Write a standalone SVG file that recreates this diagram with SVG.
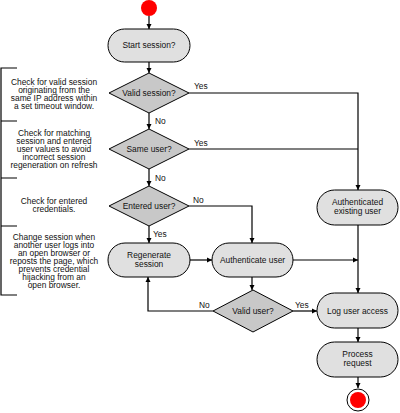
<svg xmlns="http://www.w3.org/2000/svg" width="400" height="413" viewBox="0 0 400 413">
<defs>
<marker id="ah" markerWidth="6" markerHeight="6" refX="5" refY="3" orient="auto" markerUnits="userSpaceOnUse">
<path d="M0,0.5 L5,3 L0,5.5 Z" fill="#000"/>
</marker>
<style>
text{font-family:"Liberation Sans",Arial,sans-serif;font-size:8.4px;fill:#111;}
.n{fill:#e0e0e0;stroke:#000;stroke-width:1;}
.d{fill:#c8c8c8;stroke:#000;stroke-width:1;}
.c{fill:none;stroke:#000;stroke-width:1.2;}
.m{text-anchor:middle;}
.a{marker-end:url(#ah);}
</style>
</defs>
<rect width="400" height="413" fill="#fff"/>
<g id="notes">
<path class="c" d="M17,68 H1 V295 H17 M1,121 H17 M1,178 H17 M1,226 H17" stroke-width="1"/>
<text class="m" x="54"><tspan x="54" y="85">Check for valid session</tspan><tspan x="54" y="93">originating from the</tspan><tspan x="54" y="101">same IP address within</tspan><tspan x="54" y="109">a set timeout window.</tspan></text>
<text class="m" x="54"><tspan x="54" y="136">Check for matching</tspan><tspan x="54" y="144">session and entered</tspan><tspan x="54" y="152">user values to avoid</tspan><tspan x="54" y="160">incorrect session</tspan><tspan x="54" y="168">regeneration on refresh</tspan></text>
<text class="m" x="54"><tspan x="54" y="204">Check for entered</tspan><tspan x="54" y="212">credentials.</tspan></text>
<text class="m" x="54"><tspan x="54" y="240">Change session when</tspan><tspan x="54" y="248">another user logs into</tspan><tspan x="54" y="256">an open browser or</tspan><tspan x="54" y="264">reposts the page, which</tspan><tspan x="54" y="272">prevents credential</tspan><tspan x="54" y="280">hijacking from an</tspan><tspan x="54" y="288">open browser.</tspan></text>
</g>
<g id="connectors">
<path class="c a" d="M149,16 V29"/>
<path class="c a" d="M149,62 V73"/>
<path class="c a" d="M189,93 H358 V190"/>
<path class="c" d="M189,149 H358"/>
<path class="c a" d="M149,113 V129"/>
<path class="c a" d="M149,169 V186"/>
<path class="c a" d="M189,206 H252 V243"/>
<path class="c a" d="M149,226 V243"/>
<path class="c a" d="M190,260 H212"/>
<path class="c a" d="M293,260 H358"/>
<path class="c a" d="M358,225 V293"/>
<path class="c a" d="M252,277 V290"/>
<path class="c a" d="M213,311 H148 V277"/>
<path class="c a" d="M293,311 H317"/>
<path class="c a" d="M358,328 V342"/>
<path class="c a" d="M358,377 V388"/>
<text x="194" y="89">Yes</text>
<text x="155" y="124">No</text>
<text x="194" y="146">Yes</text>
<text x="155" y="181">No</text>
<text x="193" y="203">No</text>
<text x="153" y="237">Yes</text>
<text x="199" y="308">No</text>
<text x="295" y="308">Yes</text>
</g>
<g id="start"><circle cx="149" cy="8" r="8" fill="#ff0000"/></g>
<g id="start-session"><rect class="n" x="108" y="29" width="82" height="33" rx="16.5"/><text class="m" x="149" y="48">Start session?</text></g>
<g id="valid-session"><polygon class="d" points="149,73 189,93 149,113 109,93"/><text class="m" x="149" y="96">Valid session?</text></g>
<g id="same-user"><polygon class="d" points="149,129 189,149 149,169 109,149"/><text class="m" x="149" y="152">Same user?</text></g>
<g id="entered-user"><polygon class="d" points="149,186 189,206 149,226 109,206"/><text class="m" x="149" y="209">Entered user?</text></g>
<g id="regenerate"><rect class="n" x="108" y="243" width="82" height="34" rx="17"/><text class="m" x="149" y="258">Regenerate</text><text class="m" x="149" y="267">session</text></g>
<g id="authenticate"><rect class="n" x="212" y="243" width="81" height="34" rx="17"/><text class="m" x="252.5" y="263">Authenticate user</text></g>
<g id="authenticated-existing"><rect class="n" x="317" y="190" width="81" height="35" rx="17.5"/><text class="m" x="357.5" y="205">Authenticated</text><text class="m" x="357.5" y="214">existing user</text></g>
<g id="valid-user"><polygon class="d" points="253,290 293,311 253,332 213,311"/><text class="m" x="253" y="314">Valid user?</text></g>
<g id="log-access"><rect class="n" x="317" y="293" width="81" height="35" rx="17.5"/><text class="m" x="357.5" y="314">Log user access</text></g>
<g id="process"><rect class="n" x="317" y="342" width="81" height="35" rx="17.5"/><text class="m" x="357.5" y="357">Process</text><text class="m" x="357.5" y="366">request</text></g>
<g id="end"><circle cx="358" cy="400" r="11" fill="#fff" stroke="#000" stroke-width="1"/><circle cx="358" cy="400" r="8" fill="#ff0000"/></g>
</svg>
